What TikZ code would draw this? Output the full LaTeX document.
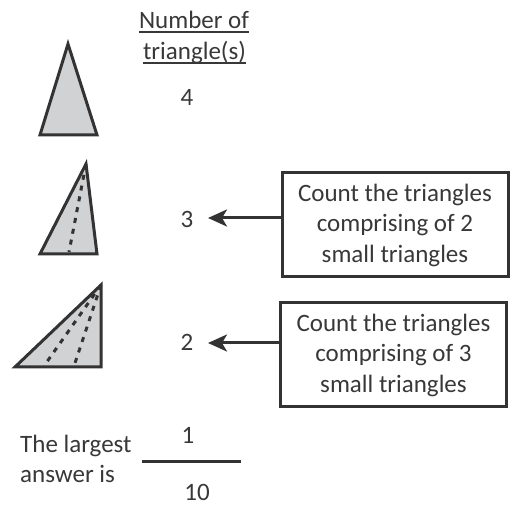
\documentclass[tikz,border=0pt]{standalone}
\usepackage{fontspec}
\setmainfont{Carlito}
\usetikzlibrary{arrows.meta}
\definecolor{ink}{HTML}{333333}
\definecolor{txt}{HTML}{383838}
\definecolor{tri}{HTML}{D1D2D4}
\tikzset{
  lbl/.style={inner sep=0pt, text=txt, font=\fontsize{25}{30.5}\selectfont, anchor=base},
  boxnode/.style={draw=ink, line width=3pt, minimum width=226pt, minimum height=104pt, inner sep=0pt, text=txt, align=center, font=\fontsize{25}{30.5}\selectfont},
  triangle/.style={draw=ink, fill=tri, line width=3pt, line join=miter},
  dashline/.style={draw=ink, line width=3pt, dash pattern=on 5pt off 6pt},
  pointer/.style={draw=ink, line width=3pt, -{Stealth[length=19pt,width=17pt,inset=5pt]}},
  uline/.style={draw=txt, line width=1.4pt}
}
\begin{document}
\begin{tikzpicture}[x=1pt,y=-1pt]
\useasboundingbox (0,0) rectangle (512,505);
% header
\node[lbl] (h1) at (194,29) {Number of};
\node[lbl] (h2) at (194.5,60) {triangle(s)};
\draw[uline] ([yshift=-3pt]h1.base west) -- ([yshift=-3pt]h1.base east);
\draw[uline] ([yshift=-3pt]h2.base west) -- ([yshift=-3pt]h2.base east);
% numbers
\node[lbl] (n4) at (187,106) {4};
\node[lbl] (n3) at (187,228) {3};
\node[lbl] (n2) at (187,351) {2};
% triangles
\draw[triangle] (68,44) -- (97,135) -- (40,135) -- cycle;
\draw[triangle] (86,164) -- (97,254) -- (40,254) -- cycle;
\draw[dashline] (86,164) -- (69,252);
\draw[triangle] (101,285) -- (101,367) -- (15,367) -- cycle;
\draw[dashline] (101,285) -- (44,366);
\draw[dashline] (101,285) -- (74,366);
% boxes
\node[boxnode] (b1) at (395,225) {Count the triangles\\comprising of 2\\small triangles};
\node[boxnode] (b2) at (393.5,355) {Count the triangles\\comprising of 3\\small triangles};
\coordinate (t3) at (208,218);
\coordinate (t2) at (208,343);
\draw[pointer] (b1.west |- t3) -- (t3);
\draw[pointer] (b2.west |- t2) -- (t2);
% fraction
\node[lbl, anchor=base west] (a1) at (20,453) {The largest};
\node[lbl, anchor=base west] (a2) at (20,482) {answer is};
\node[lbl] (num) at (188,443) {1};
\node[lbl] (den) at (197,500) {10};
\coordinate (fl) at (142,461);
\coordinate (fr) at (241,461);
\draw[draw=ink, line width=3pt] (fl) -- (fr);
\end{tikzpicture}
\end{document}
